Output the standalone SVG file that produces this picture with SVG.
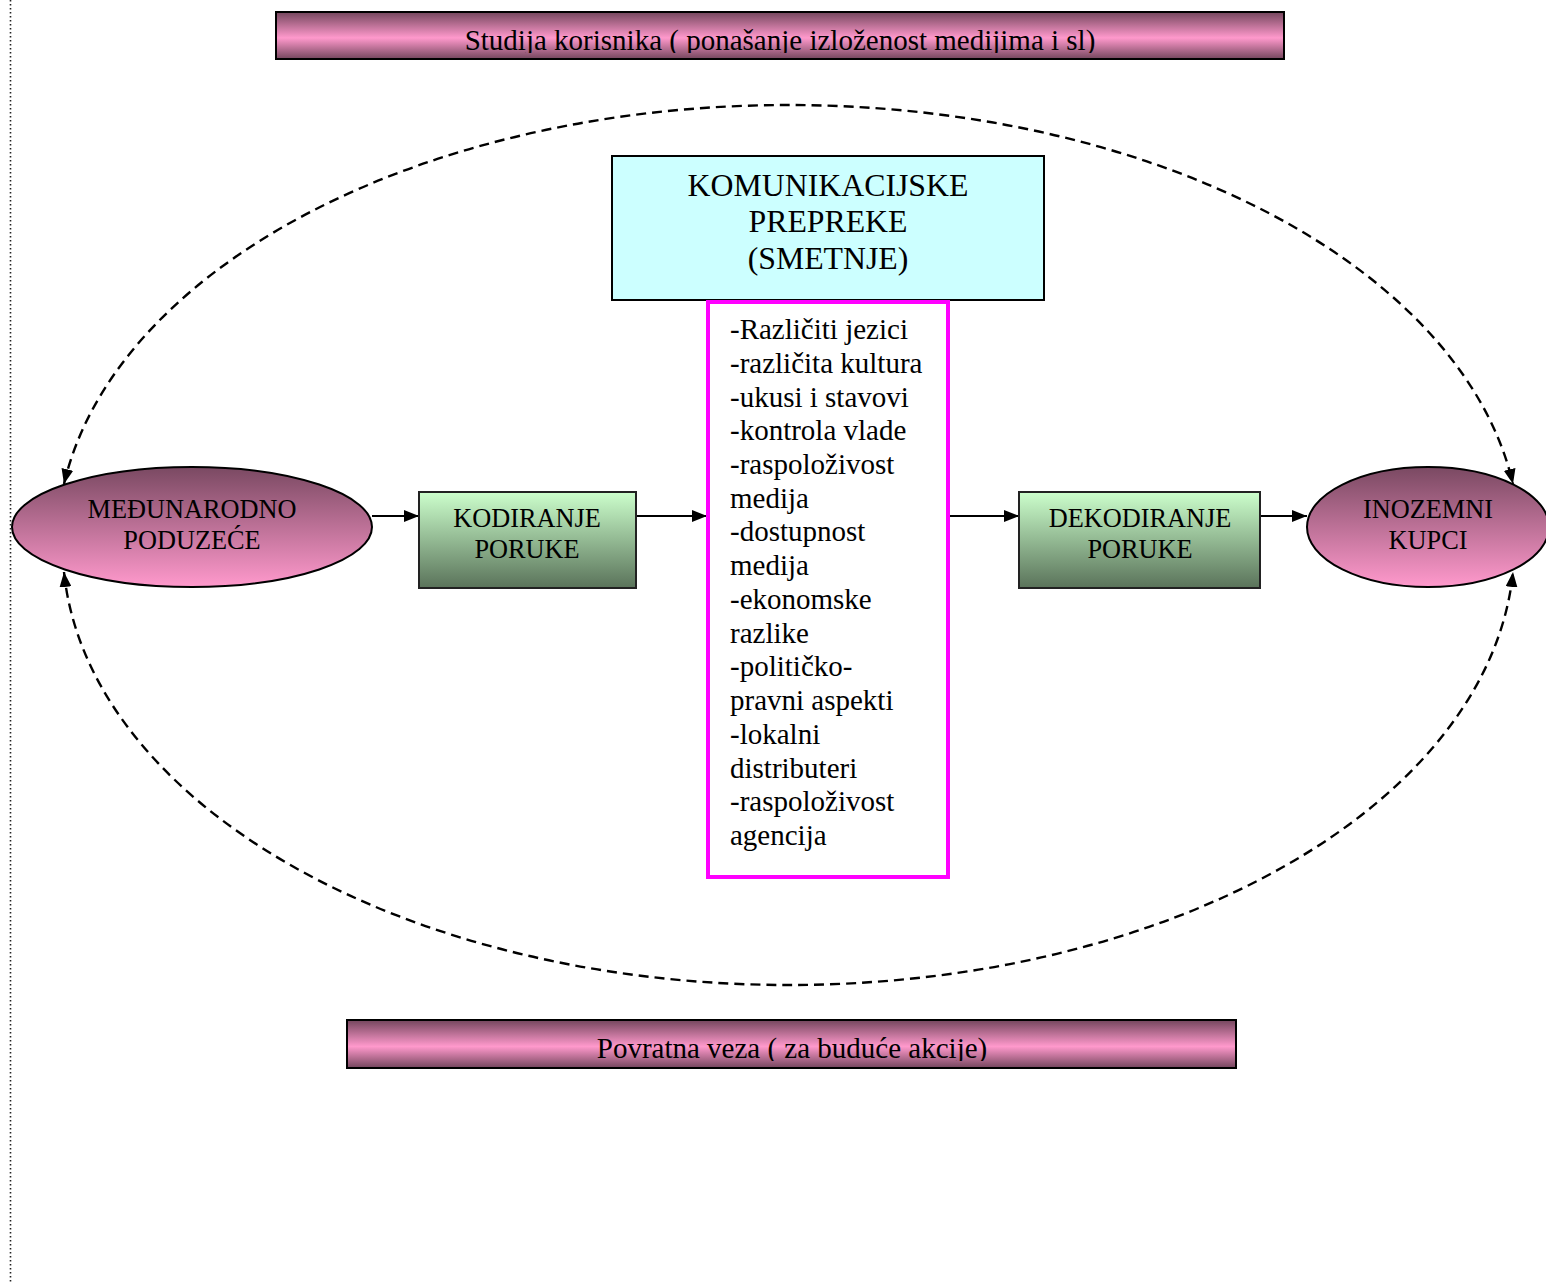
<svg xmlns="http://www.w3.org/2000/svg" width="1546" height="1282" viewBox="0 0 1546 1282">
<style>
text{font-family:"Liberation Serif","Times New Roman",serif;fill:#000}
.banner{font-size:29px}
.lbl{font-size:26.3px}
.head{font-size:31.8px}
.list{font-size:29px}
.conn{stroke:#000;stroke-width:1.8;fill:none}
.dash{stroke:#000;stroke-width:2.4;fill:none;stroke-dasharray:10 6}
</style>
<defs>
<linearGradient id="gBanner" x1="0" y1="0" x2="0" y2="1">
<stop offset="0" stop-color="#74465d"/>
<stop offset="0.55" stop-color="#ff99cc"/>
<stop offset="1" stop-color="#74465d"/>
</linearGradient>
<linearGradient id="gEll" x1="0" y1="0" x2="0" y2="1">
<stop offset="0" stop-color="#7a4962"/>
<stop offset="1" stop-color="#ff99cc"/>
</linearGradient>
<linearGradient id="gGreen" x1="0" y1="0" x2="0" y2="1">
<stop offset="0" stop-color="#ccffcc"/>
<stop offset="1" stop-color="#5a735a"/>
</linearGradient>
<marker id="arr" viewBox="0 0 15 12" refX="15" refY="6" markerWidth="15" markerHeight="12" markerUnits="userSpaceOnUse" orient="auto-start-reverse">
<path d="M0,0 L15,6 L0,12 Z" fill="#000"/>
</marker>
<clipPath id="clipTop"><rect x="277" y="13" width="1005" height="40"/></clipPath>
<clipPath id="clipBot"><rect x="349" y="1021" width="885" height="40"/></clipPath>
</defs>

<line x1="10.5" y1="0" x2="10.5" y2="1282" stroke="#222" stroke-width="1.6" stroke-dasharray="1.6 2.4"/>

<g id="connectors">
<path class="dash" d="M 64 484 A 731.6 440 0 0 1 788.5 105 A 731.6 440 0 0 1 1513 484" marker-start="url(#arr)" marker-end="url(#arr)"/>
<path class="dash" d="M 64 572 A 726 440 0 0 0 788.5 985 A 726 440 0 0 0 1513 572" marker-start="url(#arr)" marker-end="url(#arr)"/>
<line class="conn" x1="372" y1="516" x2="419" y2="516" marker-end="url(#arr)"/>
<line class="conn" x1="636" y1="516" x2="707" y2="516" marker-end="url(#arr)"/>
<line class="conn" x1="948" y1="516" x2="1019" y2="516" marker-end="url(#arr)"/>
<line class="conn" x1="1260" y1="516" x2="1307" y2="516" marker-end="url(#arr)"/>
</g>

<g id="banner-top">
<rect x="276" y="12" width="1008" height="47" fill="url(#gBanner)" stroke="#000" stroke-width="2"/>
<text class="banner" x="780" y="50" text-anchor="middle" clip-path="url(#clipTop)">Studija korisnika ( ponašanje izloženost medijima i sl)</text>
</g>

<g id="node-barriers">
<rect x="612" y="156" width="432" height="144" fill="#ccffff" stroke="#000" stroke-width="2"/>
<text class="head" x="828" y="196" text-anchor="middle">KOMUNIKACIJSKE</text>
<text class="head" x="828" y="232" text-anchor="middle">PREPREKE</text>
<text class="head" x="828" y="269" text-anchor="middle">(SMETNJE)</text>
</g>

<g id="node-list">
<rect x="708" y="302" width="240" height="575" fill="#fff" stroke="#ff00ff" stroke-width="4"/>
<text class="list">
<tspan x="730" y="339">-Različiti jezici</tspan>
<tspan x="730" y="372.7">-različita kultura</tspan>
<tspan x="730" y="406.5">-ukusi i stavovi</tspan>
<tspan x="730" y="440.2">-kontrola vlade</tspan>
<tspan x="730" y="473.9">-raspoloživost</tspan>
<tspan x="730" y="507.6">medija</tspan>
<tspan x="730" y="541.4">-dostupnost</tspan>
<tspan x="730" y="575.1">medija</tspan>
<tspan x="730" y="608.8">-ekonomske</tspan>
<tspan x="730" y="642.6">razlike</tspan>
<tspan x="730" y="676.3">-političko-</tspan>
<tspan x="730" y="710">pravni aspekti</tspan>
<tspan x="730" y="743.8">-lokalni</tspan>
<tspan x="730" y="777.5">distributeri</tspan>
<tspan x="730" y="811.2">-raspoloživost</tspan>
<tspan x="730" y="845">agencija</tspan>
</text>
</g>

<g id="node-company">
<ellipse cx="192" cy="527" rx="180" ry="60" fill="url(#gEll)" stroke="#000" stroke-width="2"/>
<text class="lbl" x="192" y="518" text-anchor="middle">MEĐUNARODNO</text>
<text class="lbl" x="192" y="549" text-anchor="middle">PODUZEĆE</text>
</g>

<g id="node-encode">
<rect x="419" y="492" width="217" height="96" fill="url(#gGreen)" stroke="#222" stroke-width="2"/>
<text class="lbl" x="527" y="527" text-anchor="middle">KODIRANJE</text>
<text class="lbl" x="527" y="558" text-anchor="middle">PORUKE</text>
</g>

<g id="node-decode">
<rect x="1019" y="492" width="241" height="96" fill="url(#gGreen)" stroke="#222" stroke-width="2"/>
<text class="lbl" x="1140" y="527" text-anchor="middle">DEKODIRANJE</text>
<text class="lbl" x="1140" y="558" text-anchor="middle">PORUKE</text>
</g>

<g id="node-customers">
<ellipse cx="1428" cy="527" rx="121" ry="60" fill="url(#gEll)" stroke="#000" stroke-width="2"/>
<text class="lbl" x="1428" y="518" text-anchor="middle">INOZEMNI</text>
<text class="lbl" x="1428" y="549" text-anchor="middle">KUPCI</text>
</g>

<g id="banner-bottom">
<rect x="347" y="1020" width="889" height="48" fill="url(#gBanner)" stroke="#000" stroke-width="2"/>
<text class="banner" x="792" y="1058" text-anchor="middle" clip-path="url(#clipBot)">Povratna veza ( za buduće akcije)</text>
</g>
</svg>
